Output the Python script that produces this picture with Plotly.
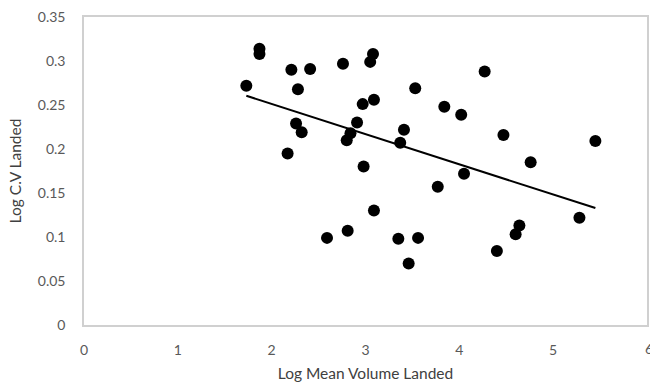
import numpy as np
import plotly.graph_objects as go

log_mean_volume = [1.73, 1.87, 1.87, 2.21, 2.41, 2.28, 2.26, 2.32, 2.17,
                   2.76, 3.05, 3.08, 3.53, 4.27, 2.97, 3.09, 2.91, 2.84, 2.80,
                   3.41, 3.37, 3.84, 4.02, 4.47, 4.76, 5.45, 2.98, 4.05, 3.77,
                   2.59, 2.81, 3.09, 3.35, 3.56, 3.46, 4.40, 4.60, 4.64, 5.28]
log_cv = [0.272, 0.314, 0.308, 0.290, 0.291, 0.268, 0.229, 0.219, 0.195,
          0.297, 0.299, 0.308, 0.269, 0.288, 0.251, 0.256, 0.230, 0.218, 0.210,
          0.222, 0.207, 0.248, 0.239, 0.216, 0.185, 0.209, 0.180, 0.172, 0.157,
          0.099, 0.107, 0.130, 0.098, 0.099, 0.070, 0.084, 0.103, 0.113, 0.122]

x_ticks = [0, 1, 2, 3, 4, 5, 6]
y_ticks = [0, 0.05, 0.1, 0.15, 0.2, 0.25, 0.3, 0.35]
y_tick_labels = ["0", "0.05", "0.1", "0.15", "0.2", "0.25", "0.3", "0.35"]

slope, intercept = np.polyfit(log_mean_volume, log_cv, 1)
trend_x = [min(log_mean_volume), max(log_mean_volume)]
trend_y = [slope * v + intercept for v in trend_x]

fig = go.Figure()
fig.add_trace(go.Scatter(x=log_mean_volume, y=log_cv, mode="markers",
                         marker=dict(color="black", size=12), showlegend=False))
fig.add_trace(go.Scatter(x=trend_x, y=trend_y, mode="lines",
                         line=dict(color="black", width=2), showlegend=False))

font = "Lato, 'Open Sans', sans-serif"
fig.update_layout(
    width=650, height=387,
    margin=dict(l=84, r=1, t=17, b=62),
    paper_bgcolor="white", plot_bgcolor="white",
    font=dict(family=font, color="#595959", size=14),
    xaxis=dict(range=[0, 6], tickvals=x_ticks, showgrid=False, zeroline=False,
               showline=True, linecolor="#d0d0d0", linewidth=1.5, mirror=True,
               ticks="", ticklabelstandoff=11,
               title=dict(text="Log Mean Volume Landed", standoff=12,
                          font=dict(size=15.5, color="#404040"))),
    yaxis=dict(range=[0, 0.35], tickvals=y_ticks, ticktext=y_tick_labels,
               showgrid=False, zeroline=False,
               showline=True, linecolor="#d0d0d0", linewidth=1.5, mirror=True,
               ticks="", ticklabelstandoff=14,
               title=dict(text="Log C.V Landed", standoff=12,
                          font=dict(size=15.5, color="#404040"))),
)
fig.add_annotation(x=6, y=0, xref="x", yref="y", text="6", showarrow=False,
                   xanchor="left", xshift=-4, yshift=-23,
                   font=dict(size=14, color="#595959"))
fig.write_html("out.html")
